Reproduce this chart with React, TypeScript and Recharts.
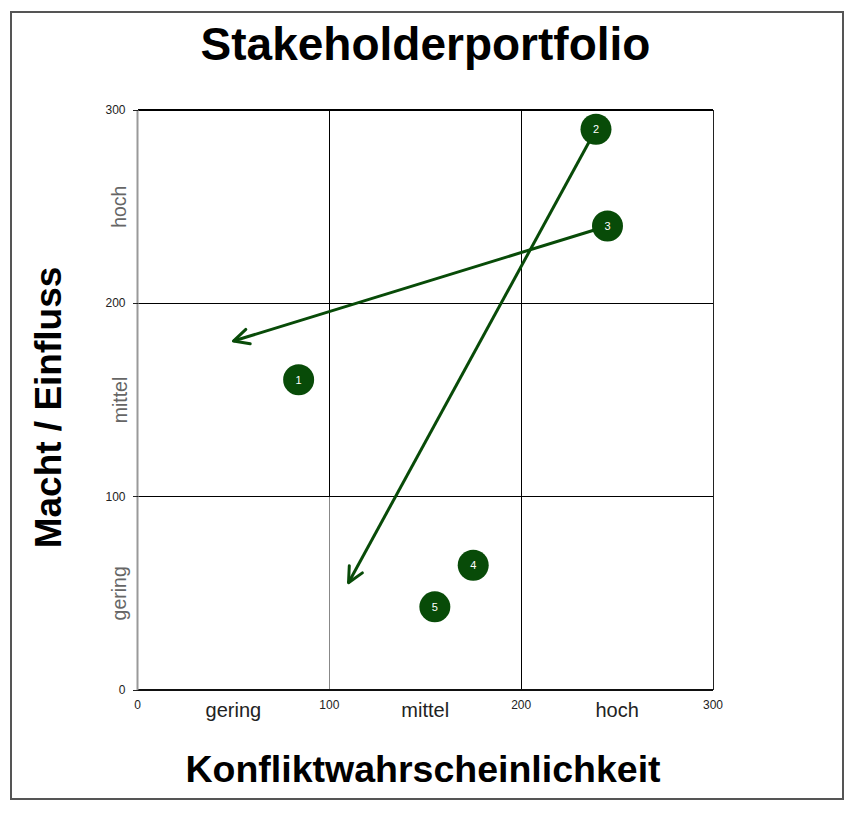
import React from 'react';
import { ScatterChart, Scatter, XAxis, YAxis, ReferenceLine } from 'recharts';

// ---- data ----
const stakeholderIds = ['1', '2', '3', '4', '5'];
const konfliktValues = [84, 239, 245, 175, 155];
const machtValues = [160.5, 290, 240, 64.5, 43];

const arrowFromIds = ['2', '3'];
const arrowToX = [110, 50];
const arrowToY = [55.5, 180.5];

const numberTicks = [0, 100, 200, 300];
const categoryTickValues = [50, 150, 250];
const categoryNames = ['gering', 'mittel', 'hoch'];

const chartTitle = 'Stakeholderportfolio';
const xTitle = 'Konfliktwahrscheinlichkeit';
const yTitle = 'Macht / Einfluss';

// ---- derived ----
const points = stakeholderIds.map((id, i) => ({ id, x: konfliktValues[i], y: machtValues[i] }));
const arrows = arrowFromIds.map((id, i) => {
  const p = points.find((q) => q.id === id)!;
  return { from: { x: p.x, y: p.y }, to: { x: arrowToX[i], y: arrowToY[i] } };
});
const allTicks = [...numberTicks, ...categoryTickValues].sort((a, b) => a - b);
const catName = (v: number) => categoryNames[categoryTickValues.indexOf(v)];

const FONT = '"Liberation Sans", Arial, Helvetica, sans-serif';
const GREEN = '#084b08';
const R = 15.5;

const XTick = (props: any) => {
  const { x, y, payload } = props;
  const v = payload.value;
  if (numberTicks.includes(v)) {
    return (
      <text x={x} y={y + 19} textAnchor="middle" fontSize={12} fill="#222" fontFamily={FONT}>
        {v}
      </text>
    );
  }
  return (
    <text x={x} y={y + 27} textAnchor="middle" fontSize={20} fill="#222" fontFamily={FONT}>
      {catName(v)}
    </text>
  );
};

const YTick = (props: any) => {
  const { x, y, payload } = props;
  const v = payload.value;
  if (numberTicks.includes(v)) {
    return (
      <g>
        <line x1={x - 5} x2={x} y1={y} y2={y} stroke="#222" strokeWidth={1} shapeRendering="crispEdges" />
        <text x={x - 12} y={y + 4} textAnchor="end" fontSize={12} fill="#222" fontFamily={FONT}>
          {v}
        </text>
      </g>
    );
  }
  const bx = x - 11;
  return (
    <text
      x={bx}
      y={y}
      textAnchor="middle"
      fontSize={19.5}
      fill="#666"
      fontFamily={FONT}
      transform={`rotate(-90, ${bx}, ${y})`}
    >
      {catName(v)}
    </text>
  );
};

const PointShape = (props: any) => {
  const { cx, cy, payload } = props;
  return (
    <g>
      <circle cx={cx} cy={cy} r={R} fill={GREEN} />
      <text x={cx} y={cy + 4} textAnchor="middle" fontSize={11} fill="#fff" fontFamily={FONT}>
        {payload.id}
      </text>
    </g>
  );
};

const ArrowShape = (props: any) => {
  const { x1, y1, x2, y2 } = props;
  const dx = x2 - x1;
  const dy = y2 - y1;
  const len = Math.sqrt(dx * dx + dy * dy) || 1;
  const ux = dx / len;
  const uy = dy / len;
  const sx = x1 + ux * (R - 1);
  const sy = y1 + uy * (R - 1);
  const ang = Math.atan2(-uy, -ux);
  const wing = 17;
  const spread = (26 * Math.PI) / 180;
  const w1x = x2 + wing * Math.cos(ang + spread);
  const w1y = y2 + wing * Math.sin(ang + spread);
  const w2x = x2 + wing * Math.cos(ang - spread);
  const w2y = y2 + wing * Math.sin(ang - spread);
  return (
    <g>
      <line x1={sx} y1={sy} x2={x2} y2={y2} stroke={GREEN} strokeWidth={3} />
      <polyline
        points={`${w1x},${w1y} ${x2},${y2} ${w2x},${w2y}`}
        fill="none"
        stroke={GREEN}
        strokeWidth={3}
        strokeLinecap="round"
        strokeLinejoin="round"
      />
    </g>
  );
};

const GridLine = (props: any) => {
  const { x1, y1, x2, y2, stroke, strokeWidth } = props;
  return (
    <line
      x1={x1}
      y1={y1}
      x2={x2}
      y2={y2}
      stroke={stroke}
      strokeWidth={strokeWidth}
      shapeRendering="crispEdges"
    />
  );
};

export default function App() {
  return (
    <div style={{ position: 'absolute', left: 0, top: 0, width: 855, height: 813, background: '#fff' }}>
      <div
        style={{
          position: 'absolute',
          left: 10,
          top: 11,
          width: 834,
          height: 789,
          boxSizing: 'border-box',
          border: '2px solid #555',
        }}
      />
      <div
        style={{
          position: 'absolute',
          left: 0,
          top: 60 - 0.8465 * 46,
          width: 851,
          textAlign: 'center',
          fontFamily: FONT,
          fontWeight: 'bold',
          fontSize: 46,
          lineHeight: '46px',
          color: '#000',
          whiteSpace: 'nowrap',
        }}
      >
        {chartTitle}
      </div>
      <div
        style={{
          position: 'absolute',
          left: 0,
          top: 783 - 0.8465 * 37.5,
          width: 846,
          textAlign: 'center',
          fontFamily: FONT,
          fontWeight: 'bold',
          fontSize: 37.5,
          lineHeight: '37.5px',
          color: '#000',
          whiteSpace: 'nowrap',
        }}
      >
        {xTitle}
      </div>
      <div
        style={{
          position: 'absolute',
          left: 47.5 - 200,
          top: 407 - 37 / 2,
          width: 400,
          height: 37,
          textAlign: 'center',
          fontFamily: FONT,
          fontWeight: 'bold',
          fontSize: 37,
          lineHeight: '37px',
          color: '#000',
          whiteSpace: 'nowrap',
          transform: 'rotate(-90deg)',
        }}
      >
        {yTitle}
      </div>
      <div style={{ position: 'absolute', left: 0, top: 0 }}>
        <ScatterChart
          width={855}
          height={813}
          margin={{ top: 110, right: 142, bottom: 93, left: 97.5 }}
        >
          <XAxis
            type="number"
            dataKey="x"
            domain={[0, 300]}
            ticks={allTicks}
            interval={0}
            allowDataOverflow
            height={30}
            tickSize={0}
            tickMargin={0}
            tickLine={false}
            axisLine={{ stroke: '#111', strokeWidth: 2 }}
            tick={<XTick />}
          />
          <YAxis
            type="number"
            dataKey="y"
            domain={[0, 300]}
            ticks={allTicks}
            interval={0}
            allowDataOverflow
            width={40}
            tickSize={0}
            tickMargin={0}
            tickLine={false}
            axisLine={{ stroke: '#999', strokeWidth: 2 }}
            tick={<YTick />}
          />
          <ReferenceLine y={100} stroke="#000" strokeWidth={1} shape={GridLine} />
          <ReferenceLine y={200} stroke="#000" strokeWidth={1} shape={GridLine} />
          <ReferenceLine y={300} stroke="#000" strokeWidth={2} shape={GridLine} />
          <ReferenceLine
            segment={[{ x: 100, y: 100 }, { x: 100, y: 300 }]}
            stroke="#000"
            strokeWidth={1}
            shape={GridLine}
          />
          <ReferenceLine
            segment={[{ x: 100, y: 0 }, { x: 100, y: 100 }]}
            stroke="#888"
            strokeWidth={1}
            shape={GridLine}
          />
          <ReferenceLine x={200} stroke="#000" strokeWidth={1} shape={GridLine} />
          <ReferenceLine x={300} stroke="#222" strokeWidth={1} shape={GridLine} />
          {arrows.map((a, i) => (
            <ReferenceLine key={`arrow-${i}`} segment={[a.from, a.to]} shape={ArrowShape} />
          ))}
          <Scatter data={points} shape={PointShape} isAnimationActive={false} />
        </ScatterChart>
      </div>
    </div>
  );
}
